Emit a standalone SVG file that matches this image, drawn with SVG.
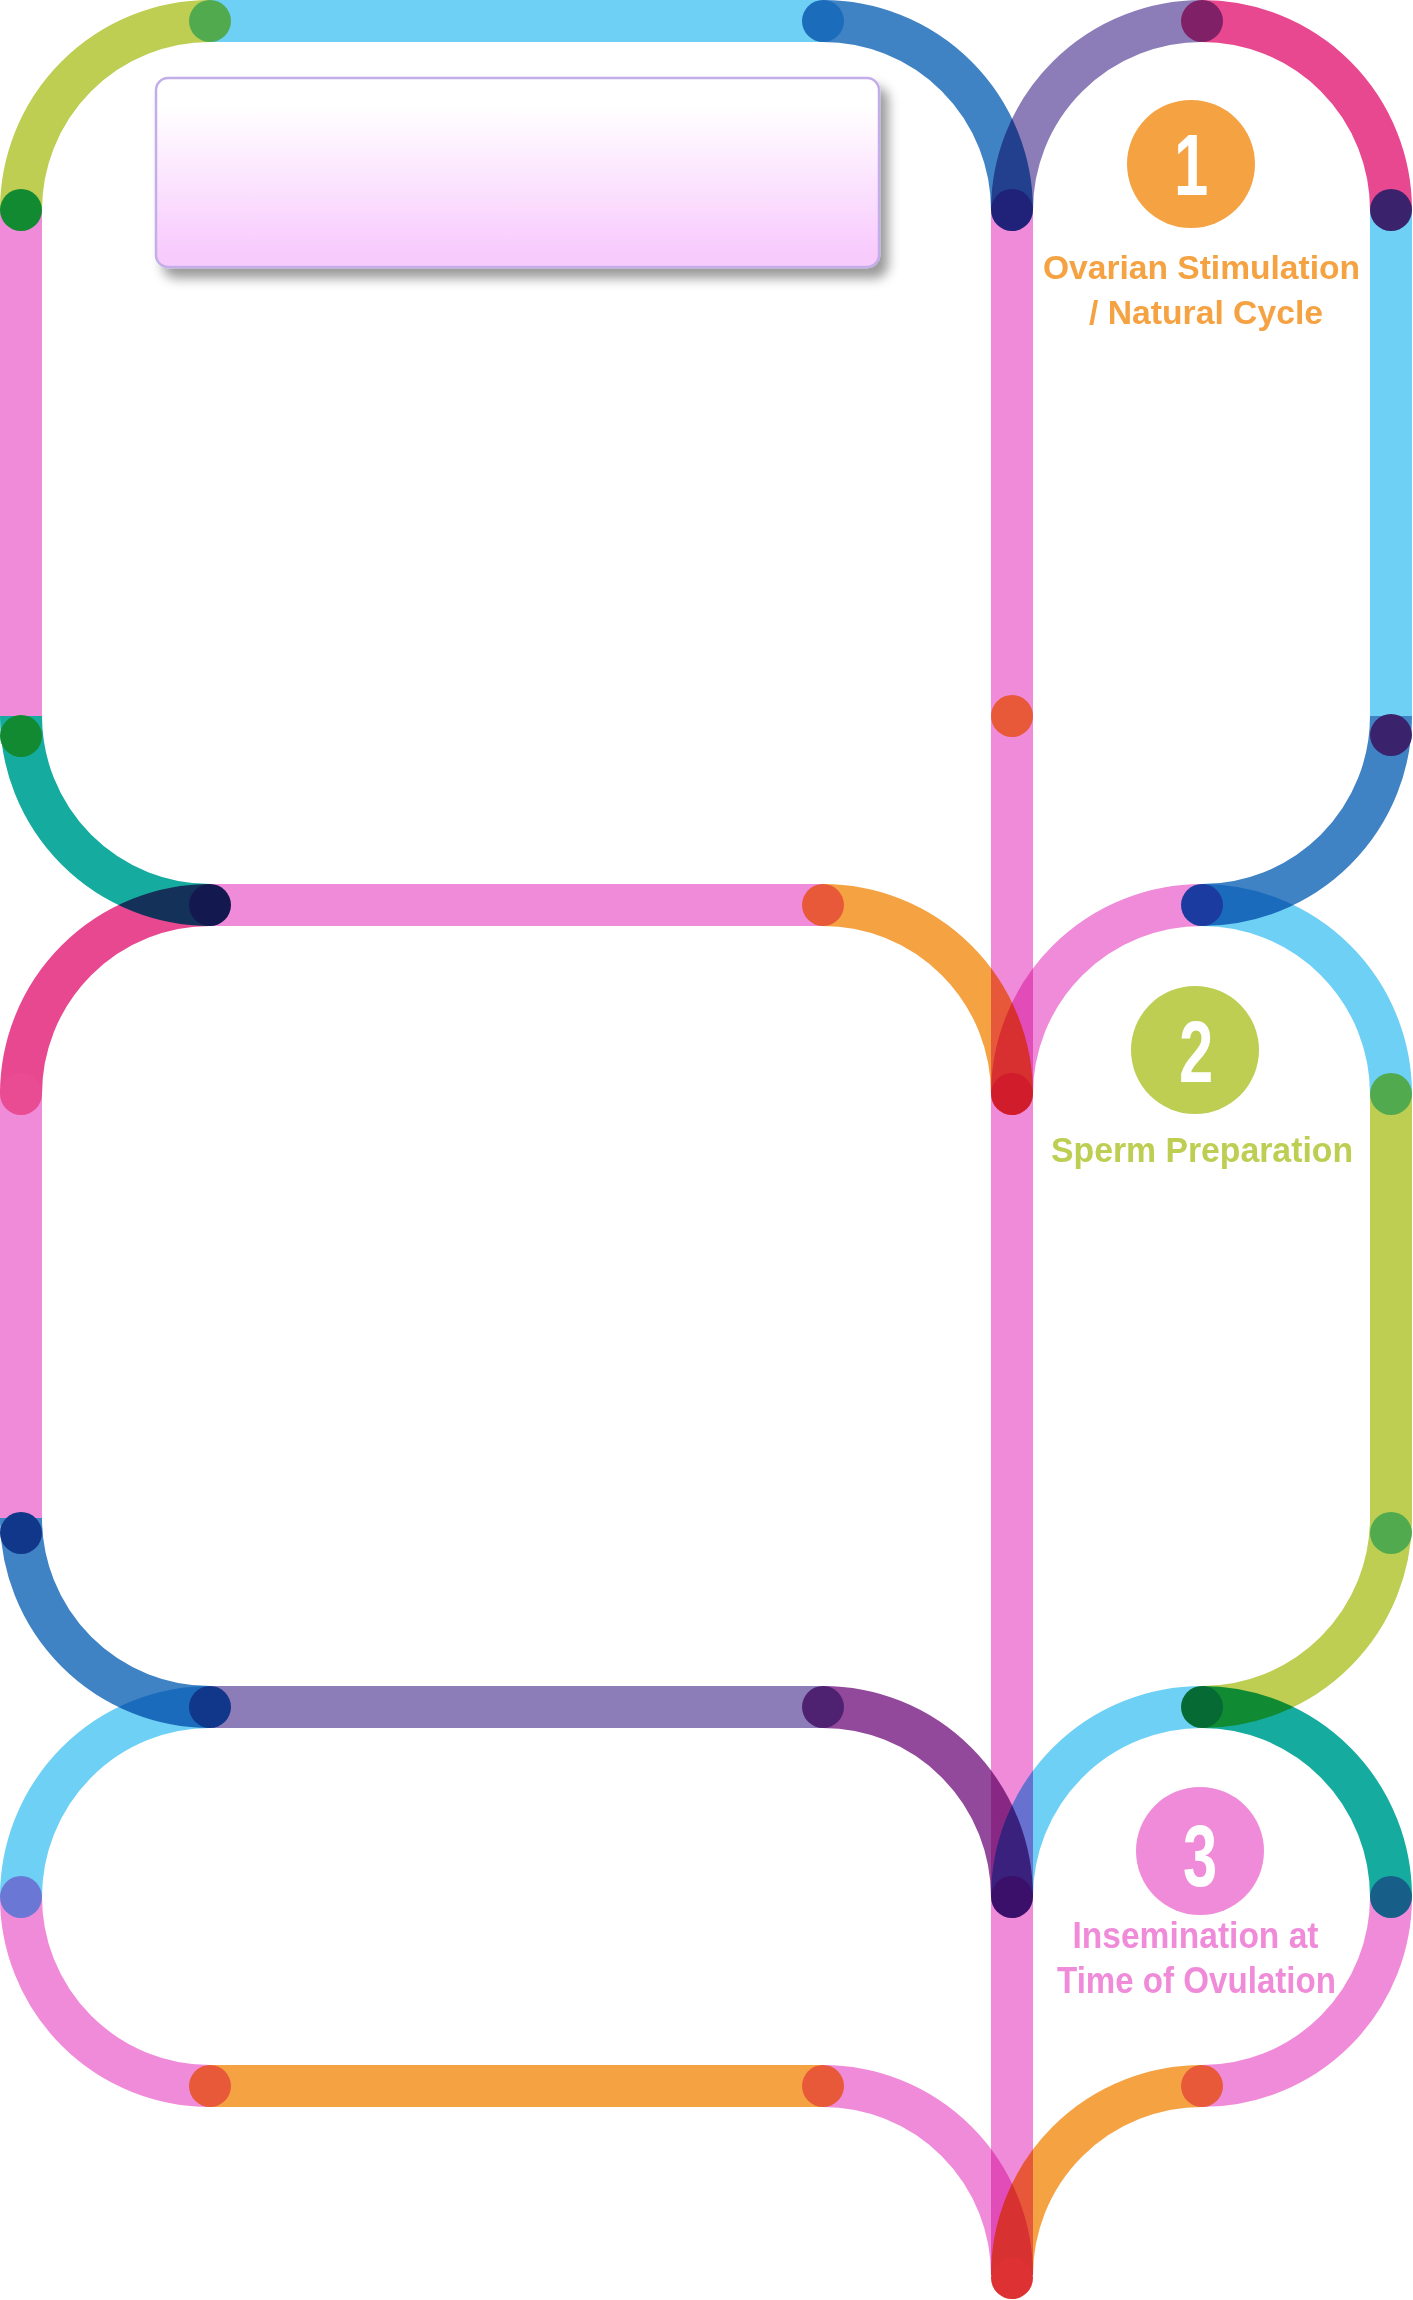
<svg xmlns="http://www.w3.org/2000/svg" width="1413" height="2300" viewBox="0 0 1413 2300">
<style>
.s{fill:none;stroke-width:42;mix-blend-mode:multiply}
.yg{stroke:#BDCE52}.cy{stroke:#6DD0F4}.bl{stroke:#3F83C5}.pu{stroke:#8C7DB8}.mg{stroke:#E8488F}
.pk{stroke:#F08BD9}.tl{stroke:#15AB9F}.or{stroke:#F5A243}.dp{stroke:#92489B}
.lbl{font-family:"Liberation Sans",Arial,sans-serif;font-weight:bold;text-anchor:middle}
.num{font-family:"Liberation Sans",Arial,sans-serif;font-weight:bold;font-size:88px;fill:#FFFFFF;text-anchor:middle}
</style>
<defs>
<linearGradient id="boxg" x1="0" y1="0" x2="0" y2="1">
<stop offset="0.15" stop-color="#FFFFFF"/>
<stop offset="0.92" stop-color="#F8CBFD"/>
</linearGradient>
<filter id="shadow" x="-10%" y="-20%" width="125%" height="150%">
<feDropShadow dx="8" dy="10" stdDeviation="6" flood-color="#000000" flood-opacity="0.4"/>
</filter>
</defs>
<rect x="0" y="0" width="1413" height="2300" fill="#FFFFFF"/>
<g id="connectors">
<path class="s yg" d="M21,210 A189,189 0 0 1 210,21"/>
<path class="s cy" d="M210,21 H823"/>
<path class="s bl" d="M823,21 A189,189 0 0 1 1012,210"/>
<path class="s pu" d="M1012,210 A190,189 0 0 1 1202,21"/>
<path class="s mg" d="M1202,21 A189,189 0 0 1 1391,210"/>
<path class="s pk" d="M21,210 V716"/>
<path class="s tl" d="M21,716 A189,189 0 0 0 210,905"/>
<path class="s pk" d="M1012,210 V2275"/>
<path class="s cy" d="M1391,210 V716"/>
<path class="s bl" d="M1391,716 A189,189 0 0 1 1202,905"/>
<path class="s pk" d="M210,905 H823"/>
<path class="s or" d="M823,905 A189,189 0 0 1 1012,1094"/>
<path class="s mg" d="M21,1094 A189,189 0 0 1 210,905"/>
<path class="s pk" d="M1012,1094 A190,189 0 0 1 1202,905"/>
<path class="s cy" d="M1202,905 A189,189 0 0 1 1391,1094"/>
<path class="s pk" d="M21,1094 V1518"/>
<path class="s bl" d="M21,1518 A189,189 0 0 0 210,1707"/>
<path class="s yg" d="M1391,1094 V1518 A189,189 0 0 1 1202,1707"/>
<path class="s pu" d="M210,1707 H823"/>
<path class="s dp" d="M823,1707 A189,190 0 0 1 1012,1897"/>
<path class="s cy" d="M21,1897 A189,190 0 0 1 210,1707"/>
<path class="s cy" d="M1012,1897 A190,190 0 0 1 1202,1707"/>
<path class="s tl" d="M1202,1707 A189,190 0 0 1 1391,1897"/>
<path class="s pk" d="M21,1897 A189,189 0 0 0 210,2086"/>
<path class="s or" d="M210,2086 H823"/>
<path class="s pk" d="M823,2086 A189,189 0 0 1 1012,2275"/>
<path class="s pk" d="M1391,1897 A189,189 0 0 1 1202,2086"/>
<path class="s or" d="M1202,2086 A190,189 0 0 0 1012,2275"/>
</g>
<g id="stations">
<circle id="st1" cx="21" cy="210" r="21" fill="#128A32"/>
<circle id="st2" cx="210" cy="21" r="21" fill="#52AA4F"/>
<circle id="st3" cx="823" cy="21" r="21" fill="#1C6CBC"/>
<circle id="st4" cx="1012" cy="210" r="21" fill="#1F2278"/>
<circle id="st5" cx="1202" cy="21" r="21" fill="#802067"/>
<circle id="st6" cx="1391" cy="210" r="21" fill="#3A226D"/>
<circle id="st7" cx="21" cy="736" r="21" fill="#128A32"/>
<circle id="st8" cx="1012" cy="716" r="21" fill="#E8593A"/>
<circle id="st9" cx="1391" cy="735" r="21" fill="#3A226D"/>
<circle id="st10" cx="210" cy="905" r="21" fill="#13184F"/>
<circle id="st11" cx="823" cy="905" r="21" fill="#E8593A"/>
<circle id="st12" cx="1202" cy="905" r="21" fill="#1C3BA0"/>
<circle id="st13" cx="21" cy="1094" r="21" fill="#EA4C93"/>
<circle id="st14" cx="1012" cy="1094" r="21" fill="#D01C2B"/>
<circle id="st15" cx="1391" cy="1094" r="21" fill="#52AA4F"/>
<circle id="st16" cx="21" cy="1533" r="21" fill="#10378A"/>
<circle id="st17" cx="1391" cy="1533" r="21" fill="#52AA4F"/>
<circle id="st18" cx="210" cy="1707" r="21" fill="#10378A"/>
<circle id="st19" cx="823" cy="1707" r="21" fill="#4E2270"/>
<circle id="st20" cx="1202" cy="1707" r="21" fill="#066A34"/>
<circle id="st21" cx="21" cy="1897" r="21" fill="#6B77D4"/>
<circle id="st22" cx="1012" cy="1897" r="21" fill="#3A106B"/>
<circle id="st23" cx="1391" cy="1897" r="21" fill="#175E88"/>
<circle id="st24" cx="210" cy="2086" r="21" fill="#E8593A"/>
<circle id="st25" cx="823" cy="2086" r="21" fill="#E8593A"/>
<circle id="st26" cx="1202" cy="2086" r="21" fill="#E8593A"/>
<circle id="st27" cx="1012" cy="2278" r="21" fill="#DE3133"/>
</g>
<g id="titlebox">
<rect x="156" y="78" width="723" height="189" rx="12" ry="12" fill="url(#boxg)" stroke="#C4AEEA" stroke-width="2.5" filter="url(#shadow)"/>
</g>
<g id="step1">
<circle cx="1191" cy="164" r="64" fill="#F5A243"/>
<text class="num" transform="translate(1191,195) scale(0.7,1)">1</text>
<text class="lbl" x="1201.5" y="279" font-size="34" fill="#F5A243" textLength="317" lengthAdjust="spacingAndGlyphs">Ovarian Stimulation</text>
<text class="lbl" x="1206" y="324" font-size="34" fill="#F5A243" textLength="234" lengthAdjust="spacingAndGlyphs">/ Natural Cycle</text>
</g>
<g id="step2">
<circle cx="1195" cy="1050" r="64" fill="#BDCE52"/>
<text class="num" transform="translate(1196,1082) scale(0.7,1)">2</text>
<text class="lbl" x="1202" y="1162" font-size="35" fill="#BDCE52" textLength="302" lengthAdjust="spacingAndGlyphs">Sperm Preparation</text>
</g>
<g id="step3">
<circle cx="1200" cy="1851" r="64" fill="#F08BD9"/>
<text class="num" transform="translate(1200,1886) scale(0.7,1)">3</text>
<text class="lbl" x="1195.5" y="1948" font-size="36" fill="#F08BD9" textLength="246" lengthAdjust="spacingAndGlyphs">Insemination at</text>
<text class="lbl" x="1196.5" y="1993" font-size="36" fill="#F08BD9" textLength="279" lengthAdjust="spacingAndGlyphs">Time of Ovulation</text>
</g>
</svg>
